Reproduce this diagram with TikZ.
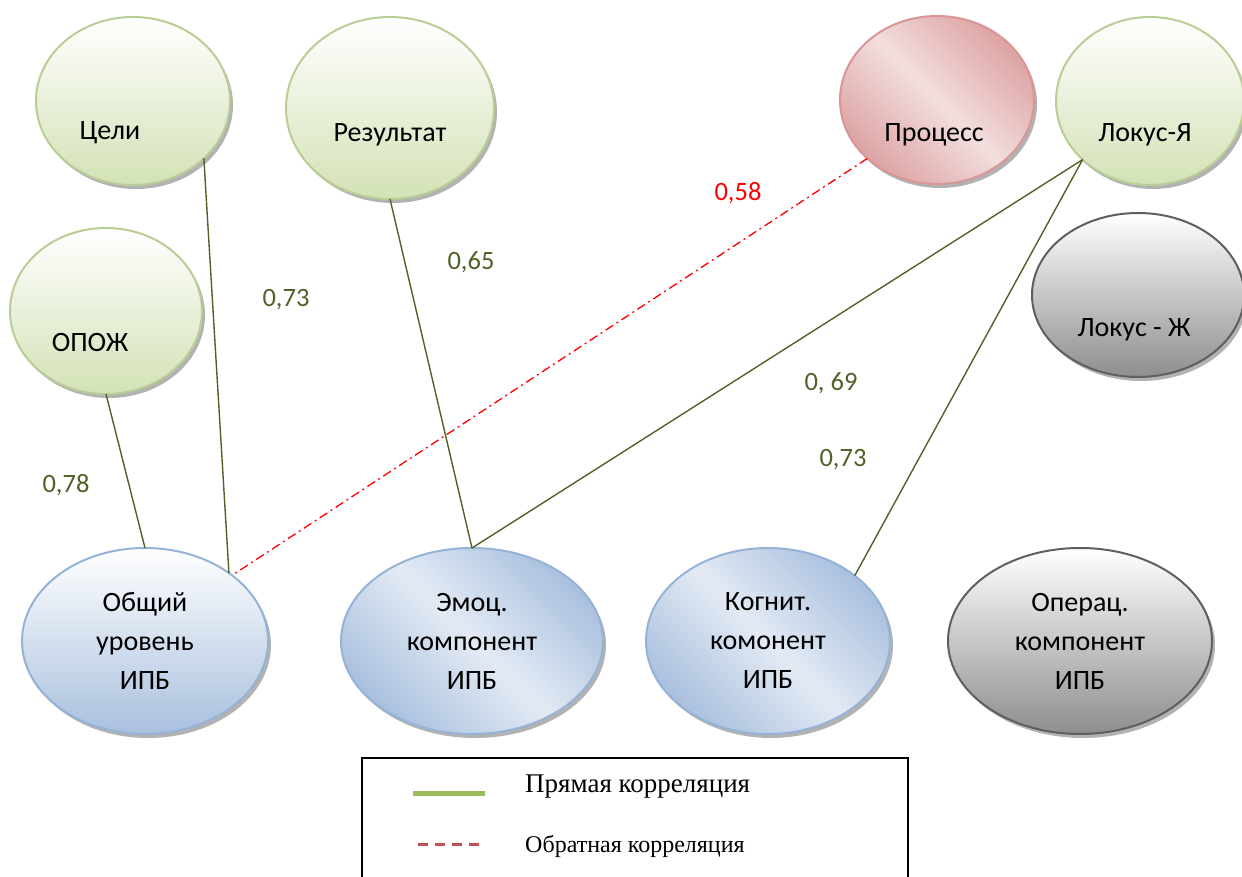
\documentclass[tikz,border=0pt]{standalone}
\usepackage{fontspec}
\setmainfont{Carlito}
\newfontfamily\tnr{Liberation Serif}
\usetikzlibrary{shapes.geometric,shadows}
\definecolor{gBord}{HTML}{B9CD96}
\definecolor{gFill}{HTML}{D3E2B6}
\definecolor{rBord}{HTML}{D99694}
\definecolor{rDark}{HTML}{DDA3A3}
\definecolor{rLight}{HTML}{F2DEDE}
\definecolor{bBord}{HTML}{95B3D7}
\definecolor{bDark}{HTML}{A9C0DE}
\definecolor{bLight}{HTML}{E3EAF4}
\definecolor{kBord}{HTML}{5F5F5F}
\definecolor{kDark}{HTML}{8E8E8E}
\definecolor{olive}{HTML}{4F6228}
\definecolor{legG}{HTML}{9BBB59}
\definecolor{legR}{HTML}{C0504D}
\tikzset{
  ell/.style={ellipse, draw, line width=2pt, inner sep=0pt, outer sep=0pt,
    font=\fontsize{28}{39}\selectfont, align=center,
    drop shadow={shadow xshift=3pt, shadow yshift=-4pt, fill=black, opacity=0.3}},
  gell/.style={ell, draw=gBord, top color=white, bottom color=gFill},
  rell/.style={ell, draw=rBord, left color=rDark, right color=rDark, middle color=rLight, shading angle=-45},
  bell/.style={ell, draw=bBord, left color=bDark, right color=bDark, middle color=bLight, shading angle=-45},
  btell/.style={ell, draw=bBord, top color=white, bottom color=bDark},
  kell/.style={ell, draw=kBord, top color=white, bottom color=kDark},
  txt/.style={font=\fontsize{28}{32}\selectfont, inner sep=0pt},
  con/.style={draw=olive, line width=1.4pt},
  neg/.style={draw=red, line width=1.3pt, dash pattern=on 9pt off 4pt on 2pt off 4pt},
  val/.style={font=\fontsize{26.5}{30}\selectfont, text=olive, inner sep=0pt},
}
\begin{document}
\begin{tikzpicture}[x=1pt,y=-1pt]
\useasboundingbox (0,0) rectangle (1242,877);
% top row
\node[gell, minimum width=194pt, minimum height=168pt,
  label={[txt, xshift=-23pt, yshift=-32pt]center:Цели}] (celi) at (133,101) {};
\node[gell, minimum width=208pt, minimum height=182pt,
  label={[txt, xshift=0pt, yshift=-27pt]center:Результат}] (rez) at (390,108) {};
\node[gell, minimum width=192pt, minimum height=166pt,
  label={[txt, xshift=-16pt, yshift=-32pt]center:ОПОЖ}] (opozh) at (106,311) {};
\node[rell, minimum width=194pt, minimum height=168pt,
  label={[txt, xshift=-3pt, yshift=-35pt]center:Процесс}] (proc) at (937,100) {};
\node[gell, minimum width=188pt, minimum height=168pt,
  label={[txt, xshift=-5pt, yshift=-34pt]center:Локус-Я}] (loky) at (1150,101) {};
\node[kell, minimum width=212pt, minimum height=164pt,
  label={[txt, xshift=-4pt, yshift=-35pt]center:Локус - Ж}] (lokzh) at (1138,295) {};
% bottom row
\node[btell, minimum width=246pt, minimum height=186pt] (obsh) at (145,641) {Общий\\уровень\\ИПБ};
\node[bell, minimum width=262pt, minimum height=186pt] (emoc) at (472,641) {Эмоц.\\компонент\\ИПБ};
\node[bell, minimum width=244pt, minimum height=186pt] (kogn) at (768,641) {Когнит.\\комонент\\ИПБ};
\node[kell, minimum width=264pt, minimum height=186pt] (oper) at (1080,641) {Операц.\\компонент\\ИПБ};
% connectors
\draw[con] (celi.-39.5) -- (obsh.39.5);
\draw[con] (opozh.-90) -- (obsh.90);
\draw[con] (rez.-90) -- (emoc.90);
\draw[con] (loky.-139.3) -- (emoc.90);
\draw[con] (loky.-139.3) -- (kogn.37);
\draw[neg] (proc.-140.4) -- (obsh.37.5);
% values
\node[val] (v1) at (286,300) {0,73};
\node[val] (v2) at (471,262) {0,65};
\node[val] (v3) at (66,485) {0,78};
\node[val] (v4) at (831,383) {0, 69};
\node[val] (v5) at (843,460) {0,73};
\node[val, text=red] (v6) at (738,193) {0,58};
% legend
\draw[line width=2pt] (362,879) -- (362,758) -- (908,758) -- (908,879);
\coordinate (lg1) at (413,793);
\coordinate (lg2) at (485,793);
\draw[legG, line width=5pt] (lg1) -- (lg2);
\coordinate (lr1) at (418,844);
\coordinate (lr2) at (485,844);
\draw[legR, line width=3pt, dash pattern=on 10pt off 7pt] (lr1) -- (lr2);
\node[anchor=west, inner sep=0pt, font=\tnr\fontsize{27}{30}\selectfont] (lt1) at (525,787) {Прямая корреляция};
\node[anchor=west, inner sep=0pt, font=\tnr\fontsize{24}{28}\selectfont] (lt2) at (525,846) {Обратная корреляция};
\end{tikzpicture}
\end{document}
